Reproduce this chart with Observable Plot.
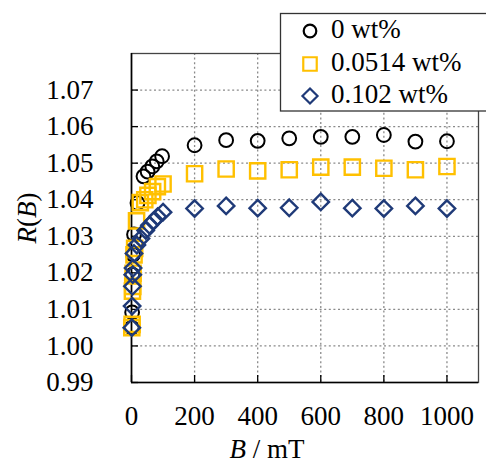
<!DOCTYPE html>
<html><head><meta charset="utf-8">
<script src="https://cdn.jsdelivr.net/npm/d3@7"></script>
<script src="https://cdn.jsdelivr.net/npm/@observablehq/plot@0.6"></script>
<style>body{margin:0;background:#fff}</style>
</head><body><div id="chart"></div>
<script>
const seriesNames = ["0 wt%", "0.0514 wt%", "0.102 wt%"];
const seriesColors = ["#000000", "#FFC000", "#1F3A78"];
const seriesSymbols = ["circle", "square", "diamond2"];

const B0 = [1, 2, 3, 5, 8, 19, 38, 51, 66, 80, 97, 200, 300, 400, 500, 600, 700, 800, 900, 1000];
const R0 = [1.0050, 1.0092, 1.0195, 1.0250, 1.0305, 1.0391, 1.0464, 1.0477, 1.0491, 1.0505, 1.0519, 1.0549, 1.0563, 1.0561, 1.0568, 1.0572, 1.0572, 1.0577, 1.0559, 1.0560];

const B1 = [1, 2, 3, 4, 5, 8, 10, 16, 28, 42, 52, 67, 82, 100, 200, 300, 400, 500, 600, 700, 800, 900, 1000];
const R1 = [1.0050, 1.0059, 1.0150, 1.0163, 1.0199, 1.0249, 1.0267, 1.0342, 1.0392, 1.0400, 1.0412, 1.0422, 1.0436, 1.0443, 1.0471, 1.0484, 1.0479, 1.0482, 1.0489, 1.0489, 1.0486, 1.0482, 1.0491];

const B2 = [1, 2, 3, 4, 5, 8, 17, 30, 45, 57, 70, 83, 100, 200, 300, 400, 500, 600, 700, 800, 900, 1000];
const R2 = [1.0050, 1.0109, 1.0163, 1.0195, 1.0213, 1.0253, 1.0276, 1.0294, 1.0316, 1.0330, 1.0342, 1.0354, 1.0366, 1.0376, 1.0383, 1.0377, 1.0378, 1.0394, 1.0377, 1.0376, 1.0383, 1.0376];

const xTicks = [0, 200, 400, 600, 800, 1000];
const xTickLabels = ["0", "200", "400", "600", "800", "1000"];
const yTicks = [0.99, 1.00, 1.01, 1.02, 1.03, 1.04, 1.05, 1.06, 1.07];
const yTickLabels = ["0.99", "1.00", "1.01", "1.02", "1.03", "1.04", "1.05", "1.06", "1.07"];

const xLabelOf = new Map(xTicks.map((t, i) => [t, xTickLabels[i]]));
const yLabelOf = new Map(yTicks.map((t, i) => [t, yTickLabels[i]]));

const toRows = (Bs, Rs) => Bs.map((b, i) => ({B: b, R: Rs[i]}));
const rows = [toRows(B0, R0), toRows(B1, R1), toRows(B2, R2)];

const W = 486, H = 465;
const mL = 131, mR = 8, mT = 53, mB = 83;
const innerW = W - mL - mR, innerH = H - mT - mB;
const font = "'Liberation Serif', 'Times New Roman', serif";
const fs = 27;
const gridStyle = {stroke: "#8a8a8a", strokeOpacity: 1, strokeDasharray: "2,2.6", strokeWidth: 1.3};
const dotR = [6.9, 8.6, 7.4];
const dotW = [2, 2.4, 2.4];

const plot = Plot.plot({
  width: W, height: H,
  marginLeft: mL, marginRight: mR, marginTop: mT, marginBottom: mB,
  x: {domain: [0, 1100]},
  y: {domain: [0.99, 1.08]},
  style: {fontFamily: font, fontSize: fs + "px", color: "#000", background: "#fff", overflow: "visible"},
  marks: [
    Plot.gridX(xTicks.filter(d => d > 0), gridStyle),
    Plot.gridY(yTicks.filter(d => d > 0.99), gridStyle),
    Plot.frame({stroke: "#444", strokeWidth: 1.3}),
    Plot.ruleX(xTicks, {insetTop: innerH - 7, stroke: "#000", strokeWidth: 1.3}),
    Plot.ruleY(yTicks, {insetRight: innerW - 7, stroke: "#000", strokeWidth: 1.3}),
    Plot.ruleX([0], {stroke: "#000", strokeWidth: 1.6}),
    Plot.ruleY([0.99], {stroke: "#000", strokeWidth: 1.6}),
    Plot.axisX(xTicks, {tickSize: 0, tickPadding: 23, fontSize: fs, tickFormat: d => xLabelOf.get(d), label: null}),
    Plot.axisY(yTicks, {tickSize: 0, tickPadding: 38, fontSize: fs, tickFormat: d => yLabelOf.get(d), label: null}),
    ...rows.map((data, i) => Plot.dot(data, {
      x: "B", y: "R", symbol: () => seriesSymbols[i], r: dotR[i],
      stroke: seriesColors[i], strokeWidth: dotW[i], fill: "none"
    }))
  ]
});

const svg = d3.select(plot);
// axis labels
const xl = svg.append("text").attr("x", 267).attr("y", 458).attr("text-anchor", "middle")
  .attr("font-family", font).attr("font-size", fs).attr("fill", "#000");
xl.append("tspan").attr("font-style", "italic").text("B");
xl.append("tspan").text(" / mT");

const yl = svg.append("text").attr("transform", "translate(36,218) rotate(-90)").attr("text-anchor", "middle")
  .attr("font-family", font).attr("font-size", fs).attr("fill", "#000");
yl.append("tspan").attr("font-style", "italic").text("R");
yl.append("tspan").text("(");
yl.append("tspan").attr("font-style", "italic").text("B");
yl.append("tspan").text(")");

// legend
const lg = svg.append("g");
lg.append("rect").attr("x", 280.5).attr("y", 13.5).attr("width", 230).attr("height", 97.5)
  .attr("fill", "#fff").attr("stroke", "#333").attr("stroke-width", 1.3);
const legSym = [d3.symbolCircle, d3.symbolSquare, d3.symbolDiamond2];
const legSize = [Math.PI * 6.3 * 6.3, Math.PI * 7.6 * 7.6, Math.PI * 6.8 * 6.8];
const legY = [38, 71, 103];
seriesNames.forEach((name, i) => {
  lg.append("path").attr("d", d3.symbol(legSym[i], legSize[i])())
    .attr("transform", `translate(310,${legY[i] - 7})`)
    .attr("fill", "none").attr("stroke", seriesColors[i]).attr("stroke-width", 2.2);
  lg.append("text").attr("x", 331).attr("y", legY[i]).attr("text-anchor", "start")
    .attr("font-family", font).attr("font-size", fs).attr("fill", "#000").text(name);
});

document.getElementById("chart").appendChild(plot);
</script>
</body></html>
